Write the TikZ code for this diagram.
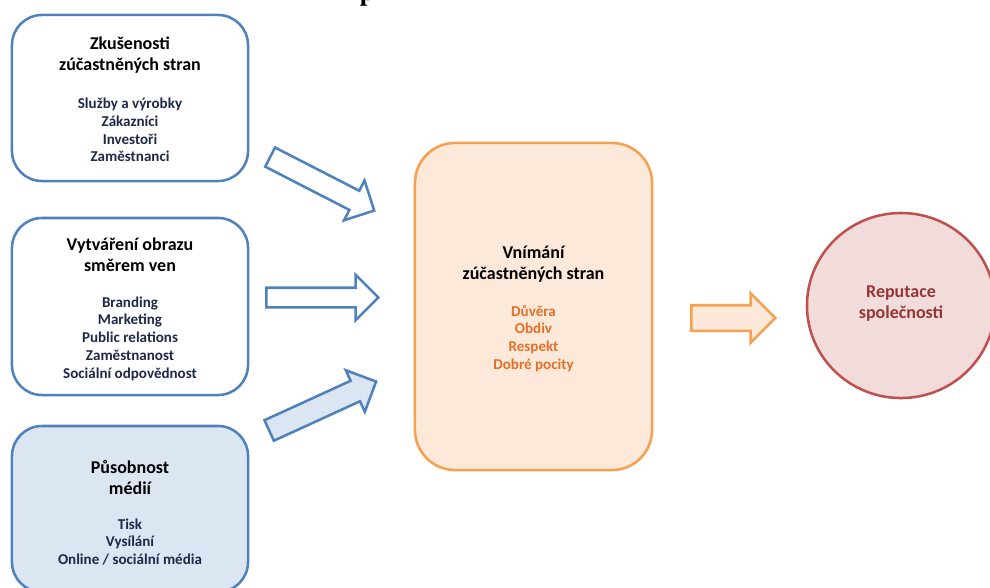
\documentclass[tikz,border=0pt]{standalone}
\usepackage{fontspec}
\setmainfont{Carlito}
\newfontfamily\titlefont{Liberation Serif}
\usetikzlibrary{shapes.geometric,shapes.arrows}
\definecolor{boxblue}{RGB}{79,129,189}
\definecolor{boxbluefill}{RGB}{220,230,242}
\definecolor{textnavy}{RGB}{30,40,72}
\definecolor{perorange}{RGB}{247,160,80}
\definecolor{perfill}{RGB}{253,233,217}
\definecolor{pertext}{RGB}{226,112,40}
\definecolor{repred}{RGB}{192,80,77}
\definecolor{repfill}{RGB}{242,220,219}
\definecolor{reptext}{RGB}{149,55,53}

\begin{document}
\begin{tikzpicture}[x=0.025cm,y=-0.025cm,
  area/.style={draw=boxblue,line width=1.8pt,rounded corners=0.75cm,minimum width=5.9cm},
  head/.style={font=\bfseries\fontsize{12.8}{14.9}\selectfont,align=center},
  items/.style={font=\bfseries\fontsize{10.7}{12.6}\selectfont,align=center,text=textnavy},
  bigarrow/.style={single arrow,draw=boxblue,line width=1.8pt,inner xsep=0pt,anchor=tail,
    inner ysep=0.2375cm,single arrow head extend=0.29cm}]
\clip (0,0) rectangle (990,587);

\node[anchor=base west,font=\titlefont\bfseries\fontsize{19.2}{20}\selectfont] (title) at (355,0) {p};

\node[area,minimum height=4.15cm] (zkus) at (130,98) {};
\node[head] (zkus-h) at (130,55.5) {Zkušenosti\\zúčastněných stran};
\node[items] (zkus-i) at (130,130) {Služby a výrobky\\Zákazníci\\Investoři\\Zaměstnanci};

\node[area,minimum height=4.425cm] (obraz) at (130,306.5) {};
\node[head] (obraz-h) at (130,255) {Vytváření obrazu\\směrem ven};
\node[items] (obraz-i) at (130,338.5) {Branding\\Marketing\\Public relations\\Zaměstnanost\\Sociální odpovědnost};

\node[area,fill=boxbluefill,minimum height=4.15cm] (media) at (130,509) {};
\node[head] (media-h) at (130,477.5) {Působnost\\médií};
\node[items] (media-i) at (130,542) {Tisk\\Vysílání\\Online / sociální média};

\node[draw=perorange,fill=perfill,line width=1.8pt,rounded corners=1cm,
  minimum width=5.925cm,minimum height=8.175cm] (vnim) at (533.5,306.5) {};
\node[head] (vnim-h) at (533.5,264) {Vnímání\\zúčastněných stran};
\node[items,text=pertext] (vnim-i) at (533.5,338.5) {Důvěra\\Obdiv\\Respekt\\Dobré pocity};

\node[ellipse,draw=repred,fill=repfill,line width=1.8pt,inner sep=0pt,
  minimum width=4.7cm,minimum height=4.625cm] (rep) at (901,305.5) {};
\node[head,text=reptext] (rep-h) at (901,304) {Reputace\\společnosti};

\node[bigarrow,minimum height=2.925cm,rotate=-27.2] (arrA) at (269,156.5) {};
\node[bigarrow,minimum height=2.8cm,inner ysep=0.2125cm,single arrow head extend=0.325cm] (arrB) at (265,297.5) {};
\node[bigarrow,fill=boxbluefill,minimum height=2.94cm,inner ysep=0.25cm,rotate=24.6] (arrC) at (268,431) {};
\node[bigarrow,draw=perorange,fill=perfill,minimum height=2.1cm,inner ysep=0.2875cm,
  single arrow head extend=0.3cm] (arrD) at (690,318) {};

\end{tikzpicture}
\end{document}
